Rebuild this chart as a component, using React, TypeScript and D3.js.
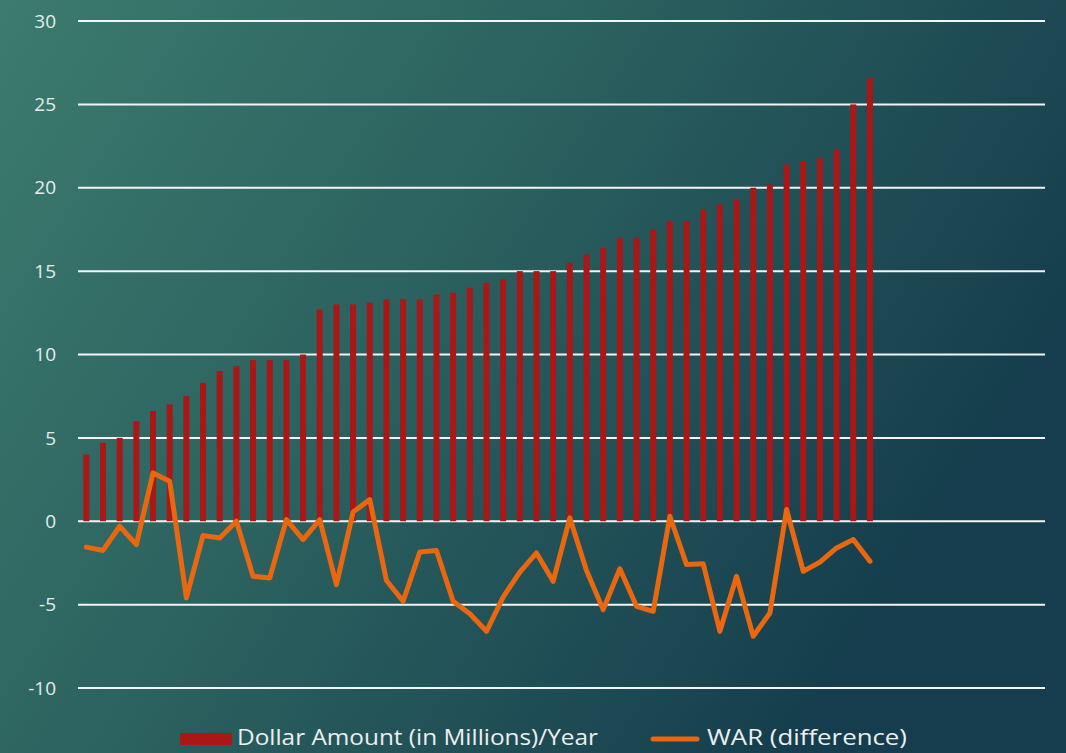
import React from "react";
import { scaleBand, scaleLinear, line } from "d3";

// salary per year (millions), one per player, sorted
const dollars = [
  4.0, 4.7, 5.0, 6.0, 6.6, 7.0, 7.5, 8.3, 9.0, 9.3, 9.66, 9.66, 9.66, 10.0,
  12.7, 13.0, 13.0, 13.1, 13.3, 13.3, 13.3, 13.6, 13.7, 14.0, 14.3, 14.5,
  15.0, 15.0, 15.0, 15.5, 16.0, 16.4, 17.0, 17.0, 17.5, 18.0, 18.0, 18.7,
  19.0, 19.3, 20.0, 20.2, 21.4, 21.6, 21.8, 22.3, 25.0, 26.6,
];

// WAR difference for the same players
const war = [
  -1.55, -1.75, -0.3, -1.4, 2.9, 2.4, -4.6, -0.85, -1.0, 0.0, -3.3, -3.4,
  0.1, -1.1, 0.1, -3.8, 0.55, 1.3, -3.55, -4.8, -1.85, -1.75, -4.8, -5.55,
  -6.6, -4.55, -3.05, -1.9, -3.6, 0.2, -2.95, -5.3, -2.85, -5.1, -5.4, 0.3,
  -2.6, -2.55, -6.6, -3.3, -6.9, -5.5, 0.7, -3.0, -2.45, -1.6, -1.1, -2.4,
];

// the category axis is wider than the data (empty slots on the right)
const slotCount = 58;
const yTicks = [-10, -5, 0, 5, 10, 15, 20, 25, 30];

const W = 1066;
const H = 753;

export default function App() {
  const slots = Array.from({ length: slotCount }, (_, i) => i);

  const x = scaleBand<number>().domain(slots).range([78, 1045]).padding(0);
  const y = scaleLinear().domain([-10, 30]).range([688, 21]);

  const cx = (i: number) => (x(i) as number) + x.bandwidth() / 2;
  const barW = 6;

  const warLine = line<number>()
    .x((_, i) => cx(i))
    .y((d) => y(d));

  return (
    <svg
      width={W}
      height={H}
      style={{ position: "absolute", left: 0, top: 0 }}
      fontFamily="'Open Sans', 'DejaVu Sans', sans-serif"
    >
      <defs>
        <linearGradient id="bg" x1="0" y1="0" x2="1" y2="0.45">
          <stop offset="0" stopColor="#3c7b6e" />
          <stop offset="0.5" stopColor="#2a5f5e" />
          <stop offset="1" stopColor="#153d4d" />
        </linearGradient>
      </defs>
      <rect width={W} height={H} fill="url(#bg)" />

      {/* gridlines + y labels */}
      {yTicks.map((t) => (
        <g key={t}>
          <line
            x1={78}
            x2={1045}
            y1={y(t)}
            y2={y(t)}
            stroke="#f4f4f4"
            strokeWidth={2}
          />
          <text
            x={56}
            y={y(t)}
            dy="0.35em"
            textAnchor="end"
            fontSize={19}
            fill="#e6ecea"
          >
            {t}
          </text>
        </g>
      ))}

      {/* bars */}
      {dollars.map((d, i) => (
        <rect
          key={i}
          x={cx(i) - barW / 2}
          y={y(d)}
          width={barW}
          height={y(0) - y(d)}
          fill="#a91717"
        />
      ))}

      {/* WAR line */}
      <path
        d={warLine(war) || ""}
        fill="none"
        stroke="#e8670f"
        strokeWidth={5}
        strokeLinejoin="round"
        strokeLinecap="round"
      />

      {/* legend */}
      <rect x={180} y={733} width={52} height={12} fill="#a91717" />
      <text
        x={237}
        y={745}
        fontSize={22}
        fill="#ecefee"
        textLength={361}
        lengthAdjust="spacingAndGlyphs"
      >
        Dollar Amount (in Millions)/Year
      </text>
      <line
        x1={653}
        x2={697}
        y1={739}
        y2={739}
        stroke="#e8670f"
        strokeWidth={5}
        strokeLinecap="round"
      />
      <text
        x={707}
        y={745}
        fontSize={22}
        fill="#ecefee"
        textLength={200}
        lengthAdjust="spacingAndGlyphs"
      >
        WAR (difference)
      </text>
    </svg>
  );
}
